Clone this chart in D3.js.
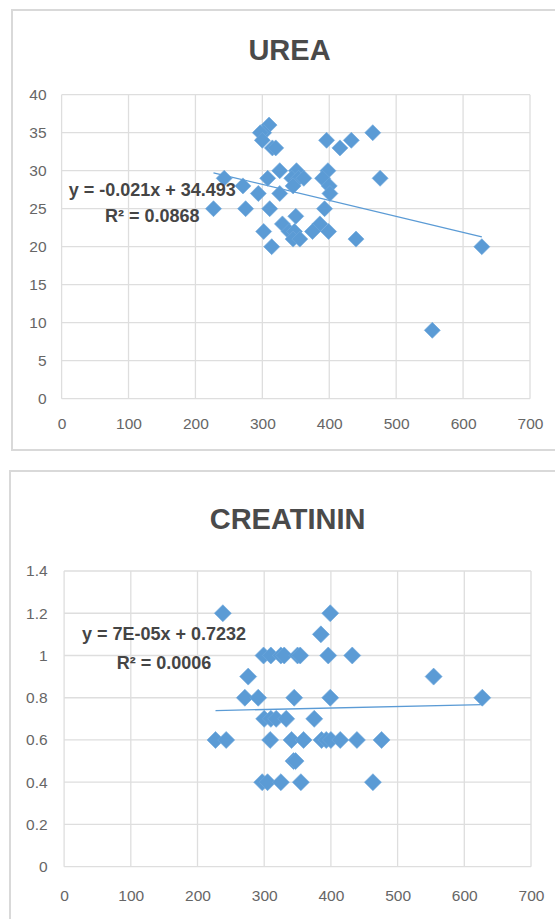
<!DOCTYPE html>
<html>
<head>
<meta charset="utf-8">
<script src="https://cdn.jsdelivr.net/npm/d3@7"></script>
<style>
  html, body { margin: 0; padding: 0; background: #fff; }
  #main { width: 555px; height: 919px; }
  text { font-family: "Liberation Sans", Arial, sans-serif; }
</style>
</head>
<body>
<div id="main"></div>
<script>
// urea vs x
var ureaX = [310, 302, 297, 300, 315, 320, 396, 416, 433, 465,
             326, 351, 398, 243, 308, 344, 354, 362, 390, 476,
             271, 346, 400, 294, 326, 401, 227, 275, 311, 393,
             350, 330, 386, 302, 340, 348, 375, 399, 346, 356,
             440, 314, 628, 554];
var ureaY = [36, 35, 35, 34, 33, 33, 34, 33, 34, 35,
             30, 30, 30, 29, 29, 29, 29, 29, 29, 29,
             28, 28, 28, 27, 27, 27, 25, 25, 25, 25,
             24, 23, 23, 22, 22, 22, 22, 22, 21, 21,
             21, 20, 20, 9];

// creatinin vs x
var creatX = [238, 399, 385, 299, 310, 325, 330, 350, 354, 396,
              432, 276, 554, 271, 291, 345, 399, 627, 300, 310,
              318, 333, 375, 227, 243, 309, 341, 359, 386, 393,
              400, 414, 439, 476, 344, 347, 297, 305, 325, 355,
              463];
var creatY = [1.2, 1.2, 1.1, 1, 1, 1, 1, 1, 1, 1,
              1, 0.9, 0.9, 0.8, 0.8, 0.8, 0.8, 0.8, 0.7, 0.7,
              0.7, 0.7, 0.7, 0.6, 0.6, 0.6, 0.6, 0.6, 0.6, 0.6,
              0.6, 0.6, 0.6, 0.6, 0.5, 0.5, 0.4, 0.4, 0.4, 0.4,
              0.4];

var xTicks = [0, 100, 200, 300, 400, 500, 600, 700];
var ureaTicks = [0, 5, 10, 15, 20, 25, 30, 35, 40];
var creatTicks = [0, 0.2, 0.4, 0.6, 0.8, 1, 1.2, 1.4];

var ureaTrend = {slope: -0.021, intercept: 34.493};
var creatTrend = {slope: 0.00007, intercept: 0.7232};

var ureaLabels = ['y = -0.021x + 34.493', 'R\u00b2 = 0.0868'];
var creatLabels = ['y = 7E-05x + 0.7232', 'R\u00b2 = 0.0006'];


function Sketch() {
  this.width = 555;
  this.height = 919;
}

Sketch.prototype.init = function() {
  this.svg = d3.select('#main')
    .append('svg')
    .attr('width', this.width)
    .attr('height', this.height);
};

Sketch.prototype.chart = function(opt) {
  var g = this.svg.append('g');

  // chart frame, runs off the page on the right
  g.append('rect')
    .attr('x', opt.frame[0])
    .attr('y', opt.frame[1])
    .attr('width', 700)
    .attr('height', opt.frame[2] - opt.frame[1])
    .attr('fill', 'none')
    .attr('stroke', '#d9d9d9')
    .attr('stroke-width', 2);

  var x = d3.scaleLinear().domain([0, 700]).range([opt.plot[0], opt.plot[1]]);
  var y = d3.scaleLinear().domain(opt.yDomain).range([opt.plot[3], opt.plot[2]]);

  // gridlines
  g.selectAll('line.vgrid')
    .data(xTicks)
    .enter()
    .append('line')
    .attr('class', 'vgrid')
    .attr('x1', function(d) { return x(d); })
    .attr('x2', function(d) { return x(d); })
    .attr('y1', y(opt.yDomain[0]))
    .attr('y2', y(opt.yDomain[1]))
    .attr('stroke', '#dedede')
    .attr('stroke-width', 1.3);

  g.selectAll('line.hgrid')
    .data(opt.yTicks)
    .enter()
    .append('line')
    .attr('class', 'hgrid')
    .attr('x1', x(0))
    .attr('x2', x(700))
    .attr('y1', function(d) { return y(d); })
    .attr('y2', function(d) { return y(d); })
    .attr('stroke', '#dedede')
    .attr('stroke-width', 1.3);

  // axes, labels only
  var xAxis = g.append('g')
    .attr('transform', 'translate(0,' + (y(opt.yDomain[0]) + opt.xLabelGap) + ')')
    .call(d3.axisBottom(x).tickValues(xTicks).tickSize(0).tickPadding(0));
  var yAxis = g.append('g')
    .attr('transform', 'translate(' + (x(0) - opt.yLabelGap) + ',0)')
    .call(d3.axisLeft(y).tickValues(opt.yTicks).tickSize(0).tickPadding(0)
      .tickFormat(d3.format('~g')));
  [xAxis, yAxis].forEach(function(a) {
    a.select('.domain').remove();
    a.selectAll('text')
      .attr('fill', '#666')
      .style('font-size', '15.5px')
      .style('font-family', '"Liberation Sans", Arial, sans-serif');
  });
  xAxis.selectAll('text').attr('dy', '0.35em');

  // title
  g.append('text')
    .attr('x', opt.titlePos[0])
    .attr('y', opt.titlePos[1])
    .attr('text-anchor', 'middle')
    .attr('fill', '#4a4a4a')
    .style('font-size', '29px')
    .style('font-weight', 'bold')
    .text(opt.title);

  // trendline over data range
  var ext = d3.extent(opt.xs);
  var tr = opt.trend;
  g.append('line')
    .attr('x1', x(ext[0]))
    .attr('y1', y(tr.slope * ext[0] + tr.intercept))
    .attr('x2', x(ext[1]))
    .attr('y2', y(tr.slope * ext[1] + tr.intercept))
    .attr('stroke', '#5b9bd5')
    .attr('stroke-width', 1.3);

  // points
  var pts = opt.xs.map(function(d, i) { return {x: d, y: opt.ys[i]}; });
  var diamond = d3.symbol().type(d3.symbolSquare).size(opt.marker * opt.marker / 2);
  g.selectAll('path.pt')
    .data(pts)
    .enter()
    .append('path')
    .attr('class', 'pt')
    .attr('d', diamond)
    .attr('transform', function(d) {
      return 'translate(' + x(d.x) + ',' + y(d.y) + ') rotate(45)';
    })
    .attr('fill', '#5b9bd5')
    .attr('stroke', '#6fa8dc')
    .attr('stroke-width', 0.6);

  // equation label
  g.selectAll('text.eq')
    .data(opt.labels)
    .enter()
    .append('text')
    .attr('class', 'eq')
    .attr('x', opt.eqPos[0])
    .attr('y', function(d, i) { return opt.eqPos[1] + i * opt.eqStep; })
    .attr('text-anchor', 'middle')
    .attr('fill', '#454545')
    .style('font-size', '18px')
    .style('font-weight', 'bold')
    .text(function(d) { return d; });
};

Sketch.prototype.render = function() {
  this.chart({
    frame: [12, 10, 450],
    plot: [61.6, 530, 94.7, 398.7],
    yDomain: [0, 40],
    yTicks: ureaTicks,
    xLabelGap: 24.6,
    yLabelGap: 15,
    title: 'UREA',
    titlePos: [289.5, 59.5],
    xs: ureaX,
    ys: ureaY,
    trend: ureaTrend,
    marker: 16,
    labels: ureaLabels,
    eqPos: [152.3, 195.8],
    eqStep: 25.7
  });

  this.chart({
    frame: [10, 471, 1000],
    plot: [64.1, 531, 571, 866.7],
    yDomain: [0, 1.4],
    yTicks: creatTicks,
    xLabelGap: 29.3,
    yLabelGap: 16.5,
    title: 'CREATININ',
    titlePos: [287.6, 528.5],
    xs: creatX,
    ys: creatY,
    trend: creatTrend,
    marker: 17,
    labels: creatLabels,
    eqPos: [164, 639.8],
    eqStep: 29.4
  });
};


document.addEventListener('DOMContentLoaded', function() {
  var s = new Sketch();
  s.init();
  s.render();
});
</script>
</body>
</html>
